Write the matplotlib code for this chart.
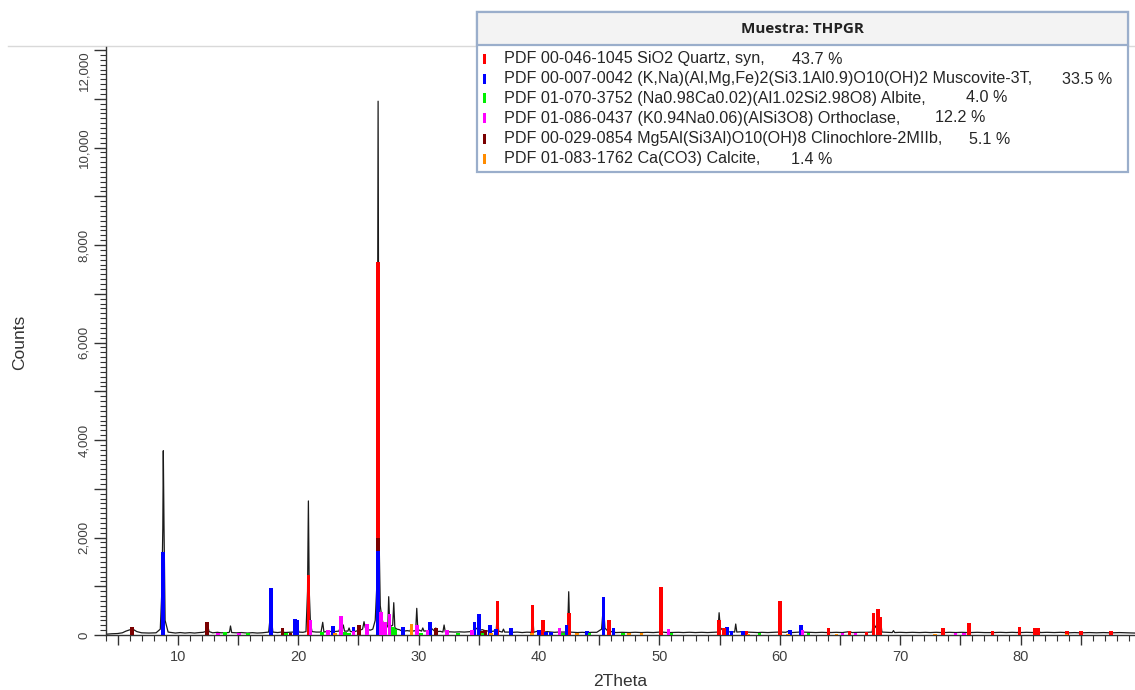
import matplotlib
matplotlib.use("Agg")
import numpy as np
import matplotlib.pyplot as plt
from matplotlib.ticker import MultipleLocator, FuncFormatter
from matplotlib.patches import Rectangle
from matplotlib.lines import Line2D

plt.rcParams['font.family'] = ['Liberation Sans', 'DejaVu Sans']

# ---------------------------------------------------------------
# Measured diffractogram: (2Theta, counts) pairs
# ---------------------------------------------------------------
profile = [
    (4.00, 15), (4.50, 25), (5.00, 30), (5.40, 45), (5.70, 80), (6.00, 105), (6.30, 115), (6.60, 70),
    (7.00, 45), (7.60, 40), (8.20, 45), (8.55, 120), (8.68, 900), (8.76, 2200), (8.80, 3780),
    (8.86, 2200), (8.95, 300), (9.20, 60), (9.80, 40), (10.20, 50), (10.60, 40), (11.00, 48),
    (11.40, 40), (11.80, 50), (12.10, 55), (12.30, 70), (12.45, 230), (12.60, 70), (12.90, 45),
    (13.30, 55), (13.60, 45), (14.20, 50), (14.30, 60), (14.38, 185), (14.48, 50), (14.90, 45),
    (15.30, 50), (15.80, 40), (16.20, 48), (16.60, 40), (17.00, 45), (17.55, 60), (17.65, 300),
    (17.72, 820), (17.80, 300), (17.90, 60), (18.30, 50), (18.60, 60), (18.70, 120), (18.82, 50),
    (19.20, 55), (19.60, 60), (19.72, 150), (19.80, 300), (19.95, 200), (20.05, 60), (20.40, 55),
    (20.65, 70), (20.78, 900), (20.85, 2750), (20.92, 900), (21.02, 250), (21.15, 70), (21.50, 60),
    (21.90, 60), (22.04, 260), (22.14, 60), (22.45, 75), (22.75, 70), (22.90, 160), (23.02, 70),
    (23.40, 80), (23.55, 250), (23.65, 100), (23.75, 205), (23.85, 80), (24.13, 80), (24.23, 144),
    (24.33, 70), (24.50, 70), (24.60, 130), (24.70, 70), (24.95, 90), (25.05, 180), (25.15, 100),
    (25.35, 120), (25.47, 273), (25.57, 150), (25.70, 180), (25.80, 110), (26.00, 100), (26.20, 120),
    (26.40, 300), (26.55, 1100), (26.64, 10950), (26.72, 2000), (26.82, 600), (26.90, 450),
    (27.00, 300), (27.12, 180), (27.22, 220), (27.35, 150), (27.45, 200), (27.52, 786), (27.60, 250),
    (27.70, 180), (27.85, 200), (27.94, 663), (28.03, 150), (28.20, 120), (28.40, 110), (28.62, 80),
    (28.72, 140), (28.82, 80), (29.05, 90), (29.30, 80), (29.40, 180), (29.50, 80), (29.76, 90),
    (29.85, 547), (29.94, 110), (30.25, 80), (30.35, 144), (30.45, 80), (30.85, 90), (30.95, 240),
    (31.05, 140), (31.33, 80), (31.43, 144), (31.53, 70), (31.80, 75), (32.02, 60), (32.12, 205),
    (32.22, 60), (32.60, 65), (33.00, 60), (33.40, 65), (33.80, 60), (34.35, 70), (34.45, 90),
    (34.55, 80), (34.65, 230), (34.75, 120), (34.92, 150), (35.02, 380), (35.12, 100), (35.30, 110),
    (35.50, 90), (35.82, 80), (35.92, 190), (36.02, 70), (36.45, 90), (36.55, 500), (36.65, 80),
    (36.95, 60), (37.05, 120), (37.15, 60), (37.60, 60), (37.70, 130), (37.80, 55), (38.20, 60),
    (38.60, 50), (39.00, 58), (39.37, 55), (39.47, 450), (39.57, 55), (40.00, 90), (40.22, 60),
    (40.32, 250), (40.42, 60), (40.70, 70), (41.00, 60), (41.30, 55), (41.60, 60), (41.70, 100),
    (41.80, 60), (42.20, 60), (42.30, 180), (42.38, 120), (42.47, 888), (42.56, 60), (42.90, 55),
    (43.20, 50), (43.60, 55), (43.90, 50), (43.97, 70), (44.05, 50), (44.40, 55), (44.80, 55),
    (45.20, 120), (45.35, 600), (45.48, 140), (45.72, 80), (45.82, 250), (45.92, 80), (46.10, 60),
    (46.20, 120), (46.30, 50), (46.90, 55), (47.50, 50), (48.00, 56), (48.50, 50), (49.00, 55),
    (49.50, 50), (50.05, 60), (50.15, 700), (50.25, 60), (50.65, 50), (50.75, 90), (50.85, 50),
    (51.60, 55), (52.00, 50), (52.50, 56), (53.00, 50), (53.50, 55), (54.00, 50), (54.40, 55),
    (54.86, 60), (54.96, 457), (55.06, 150), (55.25, 100), (55.35, 130), (55.45, 90), (55.60, 150),
    (55.70, 60), (56.00, 70), (56.25, 60), (56.34, 225), (56.43, 60), (56.95, 70), (57.25, 60),
    (57.80, 55), (58.20, 50), (58.50, 55), (59.00, 50), (59.50, 55), (59.90, 60), (60.00, 550),
    (60.10, 60), (60.50, 55), (60.85, 90), (61.00, 50), (61.40, 55), (61.65, 60), (61.75, 180),
    (61.85, 60), (62.40, 55), (63.00, 50), (63.50, 55), (63.95, 50), (64.05, 120), (64.15, 50),
    (64.70, 55), (65.20, 50), (65.80, 70), (66.00, 50), (66.60, 55), (67.20, 55), (67.68, 60),
    (67.78, 350), (67.90, 150), (68.05, 200), (68.14, 420), (68.26, 200), (68.37, 300), (68.48, 60),
    (68.90, 55), (69.34, 50), (69.44, 90), (69.54, 50), (70.00, 55), (70.50, 50), (71.00, 55),
    (71.60, 50), (72.10, 55), (72.50, 50), (73.00, 55), (73.44, 50), (73.54, 120), (73.64, 50),
    (74.10, 55), (74.60, 50), (75.10, 55), (75.62, 50), (75.72, 200), (75.82, 50), (76.40, 55),
    (77.00, 50), (77.55, 50), (77.65, 70), (77.75, 50), (78.30, 55), (78.80, 50), (79.30, 55),
    (79.80, 50), (79.90, 130), (80.00, 50), (80.50, 55), (81.10, 50), (81.20, 120), (81.34, 80),
    (81.50, 120), (81.60, 50), (82.20, 55), (82.80, 50), (83.30, 55), (83.75, 50), (83.85, 70),
    (83.95, 45), (84.50, 50), (84.90, 45), (85.00, 65), (85.10, 45), (85.70, 50), (86.30, 45),
    (86.90, 50), (87.42, 45), (87.52, 60), (87.62, 45), (88.20, 50), (88.80, 45), (89.50, 40),
]
profile_2theta = [p[0] for p in profile]
profile_counts = [p[1] for p in profile]

# ---------------------------------------------------------------
# Reference patterns of the identified phases (2Theta, counts)
# ---------------------------------------------------------------
quartz_2theta = [20.85, 26.64, 36.55, 39.47, 40.32, 42.47, 45.82, 50.15, 54.96, 55.35, 57.25, 60.00,
                 64.05, 65.80, 67.20, 67.78, 68.14, 68.37, 73.54, 75.72, 77.65, 79.90, 81.20, 81.50,
                 83.85, 85.00, 87.52]
quartz_counts = [1230, 7650, 697, 615, 308, 457, 308, 990, 308, 144, 80, 704,
                 144, 80, 60, 444, 527, 376, 144, 240, 80, 158, 144, 144,
                 80, 80, 80]

muscovite_2theta = [8.80, 17.72, 19.75, 19.90, 22.90, 24.60, 26.64, 28.72, 30.95, 34.65, 35.02, 35.92,
                    36.45, 37.70, 40.00, 40.60, 41.00, 42.30, 43.97, 45.35, 46.20, 55.60, 56.00, 56.95,
                    60.85, 61.75]
muscovite_counts = [1710, 958, 335, 300, 185, 170, 1720, 170, 273, 260, 430, 205,
                    120, 144, 100, 70, 70, 205, 80, 773, 144, 170, 80, 80,
                    100, 205]

albite_2theta = [13.90, 15.85, 19.00, 22.00, 23.90, 24.20, 27.90, 28.05, 30.20, 33.30, 35.30, 42.00,
                 44.20, 47.00, 51.00, 58.30, 62.40]
albite_counts = [60, 50, 50, 60, 60, 45, 160, 120, 50, 40, 50, 40,
                 40, 40, 40, 40, 35]

orthoclase_2theta = [13.35, 15.10, 21.02, 22.50, 23.55, 24.60, 25.70, 26.90, 27.22, 27.58, 29.87, 30.75,
                     32.35, 34.45, 41.70, 50.75, 61.90, 65.20, 66.30, 74.60, 75.30]
orthoclase_counts = [50, 50, 308, 100, 390, 80, 225, 478, 273, 440, 205, 100,
                     100, 100, 144, 123, 100, 35, 35, 35, 35]

clinochlore_2theta = [6.20, 12.45, 18.70, 19.35, 25.05, 26.64, 31.43, 35.50, 35.25]
clinochlore_counts = [170, 267, 144, 40, 205, 1990, 144, 100, 80]

calcite_2theta = [23.05, 29.40, 36.00, 39.40, 43.15, 47.50, 48.50, 57.40, 60.70, 64.70, 72.90, 83.80]
calcite_counts = [40, 225, 40, 40, 40, 40, 40, 30, 30, 30, 30, 30]

phase_labels = [
    "PDF 00-046-1045 SiO2 Quartz, syn,",
    "PDF 00-007-0042 (K,Na)(Al,Mg,Fe)2(Si3.1Al0.9)O10(OH)2 Muscovite-3T,",
    "PDF 01-070-3752 (Na0.98Ca0.02)(Al1.02Si2.98O8) Albite,",
    "PDF 01-086-0437 (K0.94Na0.06)(AlSi3O8) Orthoclase,",
    "PDF 00-029-0854 Mg5Al(Si3Al)O10(OH)8 Clinochlore-2MIIb,",
    "PDF 01-083-1762 Ca(CO3) Calcite,",
]
phase_percent = ["43.7 %", "33.5 %", "4.0 %", "12.2 %", "5.1 %", "1.4 %"]
phase_colors = ["#ff0000", "#0000ff", "#00ee00", "#ff00ff", "#7a0000", "#ff8c00"]
sample_title = "Muestra: THPGR"

phase_data = [
    (quartz_2theta, quartz_counts),
    (muscovite_2theta, muscovite_counts),
    (albite_2theta, albite_counts),
    (orthoclase_2theta, orthoclase_counts),
    (clinochlore_2theta, clinochlore_counts),
    (calcite_2theta, calcite_counts),
]

# ---------------------------------------------------------------
# Figure
# ---------------------------------------------------------------
W, H = 1135, 690
fig = plt.figure(figsize=(W / 100, H / 100), dpi=100)
fig.patch.set_facecolor("white")

# thin separator line across the top of the page
fig.add_artist(Line2D([8 / W, 1.0], [1 - 46 / H, 1 - 46 / H], color="#d9d9d9",
                      lw=1.0, transform=fig.transFigure, zorder=0))

ax = fig.add_axes([105.5 / W, 55 / H, (W - 105.5) / W, 588 / H])
ax.set_facecolor("none")

# measured pattern underneath the stick patterns
ax.plot(profile_2theta, profile_counts, color="#1a1a1a", lw=0.9, zorder=2)

# stick patterns: taller sticks first so the shorter ones stay visible
pos, hts, cols = [], [], []
for (xs, ys), c in zip(phase_data, phase_colors):
    pos += list(xs)
    hts += list(ys)
    cols += [c] * len(xs)
order = np.argsort(-np.asarray(hts), kind="stable")
ax.bar(np.asarray(pos)[order], np.asarray(hts)[order], width=0.3,
       color=np.asarray(cols)[order], linewidth=0, zorder=3)

ax.set_xlim(4, 89.5)
ax.set_ylim(0, 12062)

for s in ("top", "right"):
    ax.spines[s].set_visible(False)
for s in ("left", "bottom"):
    ax.spines[s].set_color("#333333")
    ax.spines[s].set_linewidth(1.0)

ax.xaxis.set_major_locator(MultipleLocator(5))
ax.xaxis.set_minor_locator(MultipleLocator(1))
ax.xaxis.set_major_formatter(FuncFormatter(lambda v, p: f"{int(round(v))}" if round(v) % 10 == 0 else ""))
ax.yaxis.set_major_locator(MultipleLocator(1000))
ax.yaxis.set_minor_locator(MultipleLocator(100))
ax.yaxis.set_major_formatter(FuncFormatter(lambda v, p: f"{int(round(v)):,}" if round(v) % 2000 == 0 else ""))

ax.tick_params(axis="x", which="major", length=7, width=1.0, color="#333333",
               labelsize=10.5, labelcolor="#404040", pad=4)
ax.tick_params(axis="x", which="minor", length=4, width=0.8, color="#333333")
ax.tick_params(axis="y", which="major", length=9, width=1.0, color="#333333",
               labelsize=9.5, labelcolor="#404040", pad=2)
ax.tick_params(axis="y", which="minor", length=4, width=0.8, color="#333333")

fig.canvas.draw()
for tick in ax.yaxis.get_major_ticks():
    lab = tick.label1
    lab.set_rotation(90)
    # the topmost label hangs below its tick so it stays inside the plot height
    lab.set_va("top" if tick.get_loc() >= 12000 else "center")

fig.text(620 / W, 1 - 681 / H, "2Theta", ha="center", va="center", fontsize=12.5, color="#333333")
fig.text(20 / W, 1 - 342 / H, "Counts", ha="center", va="center", rotation=90,
         fontsize=12.5, color="#333333")

# ---------------------------------------------------------------
# Phase legend box (drawn in pixel coordinates)
# ---------------------------------------------------------------
bx0, bx1, by0, by1 = 477, 1128, 12, 172
lg = fig.add_axes([bx0 / W, 1 - by1 / H, (bx1 - bx0) / W, (by1 - by0) / H], zorder=5)
lg.set_xlim(bx0, bx1)
lg.set_ylim(by1, by0)
lg.axis("off")
border = "#9aaecb"
lg.add_patch(Rectangle((bx0, by0), bx1 - bx0, by1 - by0, facecolor="white",
                       edgecolor=border, lw=1.6, clip_on=False))
lg.add_patch(Rectangle((bx0, by0), bx1 - bx0, 33, facecolor="#f3f3f3",
                       edgecolor=border, lw=1.6, clip_on=False))
lg.text((bx0 + bx1) / 2, 29, sample_title, ha="center", va="center",
        fontsize=11, fontweight="bold", color="#222222", family=["Open Sans", "DejaVu Sans"])

row_y = [59, 79, 98, 118, 139, 159]
pct_x = [792, 1062, 966, 935, 969, 791]
for y, lab, pct, c, px in zip(row_y, phase_labels, phase_percent, phase_colors, pct_x):
    lg.add_patch(Rectangle((483, y - 5), 3, 10, facecolor=c, edgecolor="none"))
    lg.text(504, y, lab, ha="left", va="center", fontsize=11.6, color="#262626")
    lg.text(px, y, pct, ha="left", va="center", fontsize=11.6, color="#262626")

fig.savefig("out.png", dpi=100)
